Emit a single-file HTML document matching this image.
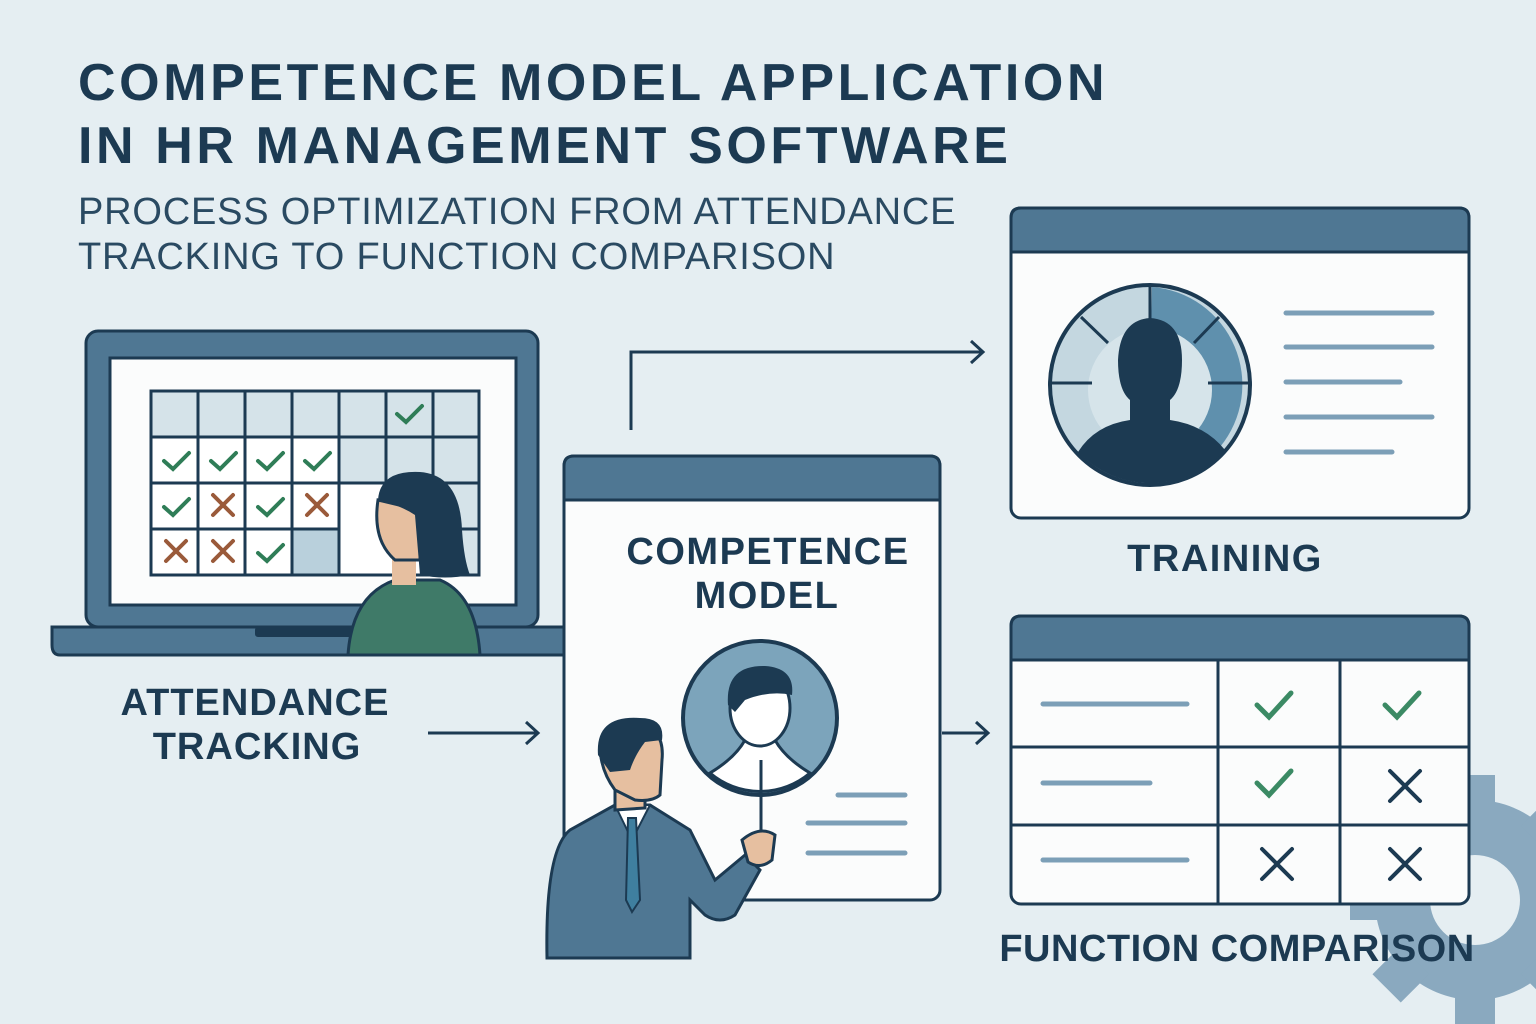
<!DOCTYPE html>
<html><head><meta charset="utf-8"><style>
html,body{margin:0;padding:0;background:#e5eef2;}
svg{display:block;}
text{font-family:"Liberation Sans","DejaVu Sans",sans-serif;}
</style></head><body>
<svg width="1536" height="1024" viewBox="0 0 1536 1024" xmlns="http://www.w3.org/2000/svg">
<rect width="1536" height="1024" fill="#e5eef2"/>
<!-- gear -->
<g fill="#8aa9bf">
<circle cx="1475" cy="900" r="100"/>
<g transform="translate(1475 900)">
<rect x="-20" y="-125" width="40" height="40" transform="rotate(0)"/>
<rect x="-20" y="-125" width="40" height="40" transform="rotate(45)"/>
<rect x="-20" y="-125" width="40" height="40" transform="rotate(90)"/>
<rect x="-20" y="-125" width="40" height="40" transform="rotate(135)"/>
<rect x="-20" y="-125" width="40" height="40" transform="rotate(180)"/>
<rect x="-20" y="-125" width="40" height="40" transform="rotate(225)"/>
<rect x="-20" y="-125" width="40" height="40" transform="rotate(270)"/>
<rect x="-20" y="-125" width="40" height="40" transform="rotate(315)"/>
</g></g>
<circle cx="1475" cy="900" r="45" fill="#e5eef2"/>
<!-- title -->
<g fill="#1c3a52" font-weight="bold" font-size="52" letter-spacing="3.6">
<text x="78" y="100">COMPETENCE MODEL APPLICATION</text>
<text x="78" y="163">IN HR MANAGEMENT SOFTWARE</text>
</g>
<g fill="#2a4a62" font-size="38" letter-spacing="0.8">
<text x="78" y="224">PROCESS OPTIMIZATION FROM ATTENDANCE</text>
<text x="78" y="269">TRACKING TO FUNCTION COMPARISON</text>
</g>
<!-- laptop -->
<rect x="86" y="331" width="452" height="296" rx="12" fill="#4f7793" stroke="#1c3a52" stroke-width="3"/>
<rect x="110" y="358" width="406" height="247" fill="#fbfcfc" stroke="#1c3a52" stroke-width="3"/>
<path d="M52 627 H564 V655 H60 Q52 655 52 645 Z" fill="#4f7793" stroke="#1c3a52" stroke-width="3"/>
<rect x="255" y="627" width="110" height="10" rx="3" fill="#1c3a52"/>
<!-- grid -->
<g stroke="#1c3a52" stroke-width="3">
<rect x="151" y="391" width="328" height="184" fill="#fff"/>
<g fill="#d5e3e9">
<rect x="151" y="391" width="47" height="46"/><rect x="198" y="391" width="47" height="46"/><rect x="245" y="391" width="47" height="46"/><rect x="292" y="391" width="47" height="46"/><rect x="339" y="391" width="47" height="46"/><rect x="386" y="391" width="47" height="46"/><rect x="433" y="391" width="46" height="46"/>
<rect x="339" y="437" width="47" height="46"/><rect x="386" y="437" width="47" height="46"/><rect x="433" y="437" width="46" height="46"/>
<rect x="433" y="483" width="46" height="46"/><rect x="433" y="529" width="46" height="46"/>
</g>
<rect x="292" y="529" width="47" height="46" fill="#b9d0dc"/>
<path d="M151 437H479M151 483H339M151 529H339M198 391V575M245 391V575M292 391V575M339 391V575" fill="none"/>
</g>
<g fill="none" stroke="#2f7d57" stroke-width="4" stroke-linecap="round">
<path d="M397 414l9 8 16-16"/>
<path d="M164 461l9 8 16-16M211 461l9 8 16-16M258 461l9 8 16-16M305 461l9 8 16-16"/>
<path d="M164 507l9 8 16-16M258 507l9 8 16-16M258 553l9 8 16-16"/>
</g>
<g stroke="#9a5a3a" stroke-width="4" stroke-linecap="round">
<path d="M213 495l20 20M233 495l-20 20M307 495l20 20M327 495l-20 20M166 541l20 20M186 541l-20 20M213 541l20 20M233 541l-20 20"/>
</g>
<!-- woman -->
<path d="M348 655 Q352 595 395 580 L440 580 Q476 595 480 655 Z" fill="#3f7a68" stroke="#1c3a52" stroke-width="3"/>
<rect x="392" y="555" width="24" height="30" fill="#e6bfa0"/>
<path d="M378 500 Q372 540 395 560 L420 560 L420 510 Z" fill="#e6bfa0" stroke="#1c3a52" stroke-width="3"/>
<path d="M378 500 Q380 470 420 472 Q460 475 462 530 Q464 560 470 575 Q445 580 420 575 L415 515 Q400 505 378 500 Z" fill="#1c3a52"/>
<!-- attendance label -->
<g fill="#1c3a52" font-weight="bold" font-size="38" text-anchor="middle" letter-spacing="1">
<text x="255" y="715">ATTENDANCE</text>
<text x="257" y="759">TRACKING</text>
</g>
<g stroke="#1c3a52" stroke-width="3" fill="none">
<path d="M428 733H538M526 722l12 11-12 11"/>
<path d="M631 430V352H983M971 341l12 11-12 11"/>
<path d="M942 733H988M976 722l12 11-12 11"/>
</g>
<!-- competence card -->
<rect x="564" y="456" width="376" height="444" rx="10" fill="#fbfcfc" stroke="#1c3a52" stroke-width="3"/>
<path d="M564 500V466Q564 456 574 456H930Q940 456 940 466V500Z" fill="#4f7793" stroke="#1c3a52" stroke-width="3"/>
<g fill="#1c3a52" font-weight="bold" font-size="38" text-anchor="middle" letter-spacing="1.5">
<text x="768" y="564">COMPETENCE</text>
<text x="767" y="608">MODEL</text>
</g>
<g stroke="#7c9fb7" stroke-width="5" stroke-linecap="round">
<path d="M838 795H905M808 823H905M808 853H905"/>
</g>
<circle cx="760" cy="718" r="77" fill="#7ca4bb" stroke="#1c3a52" stroke-width="4"/>
<path d="M710 773 Q735 758 745 740 L775 740 Q785 758 810 773 A77 77 0 0 1 710 773Z" fill="#fff" stroke="#1c3a52" stroke-width="3"/>
<ellipse cx="760" cy="708" rx="30" ry="38" fill="#fff" stroke="#1c3a52" stroke-width="3"/>
<path d="M728 705 Q725 665 765 666 Q795 668 792 695 Q770 690 745 700 L735 712Z" fill="#1c3a52"/>
<path d="M761 760V835" stroke="#1c3a52" stroke-width="3"/>
<!-- man -->
<path d="M547 958 Q545 850 570 830 L615 805 L650 805 L690 830 L715 880 L745 855 L760 870 L735 915 Q720 925 705 915 L690 900 L690 958Z" fill="#4f7793" stroke="#1c3a52" stroke-width="3"/>
<path d="M615 805 L632 840 L650 805Z" fill="#fff" stroke="#1c3a52" stroke-width="2"/>
<path d="M628 818 L636 818 L640 900 L632 912 L626 900Z" fill="#3f7f9f" stroke="#1c3a52" stroke-width="2"/>
<path d="M615 780 L615 810 L645 808 L645 790Z" fill="#e6bfa0" stroke="#1c3a52" stroke-width="3"/>
<path d="M600 745 Q605 720 640 722 Q665 730 662 760 L660 795 Q652 802 635 800 L615 790 Q600 770 600 745Z" fill="#e6bfa0" stroke="#1c3a52" stroke-width="3"/>
<path d="M598 755 Q595 715 640 718 Q665 718 662 740 L645 742 Q635 755 630 770 L610 772Z" fill="#1c3a52"/>
<path d="M742 840 Q760 825 775 835 L772 860 Q760 870 748 862Z" fill="#e6bfa0" stroke="#1c3a52" stroke-width="3"/>
<!-- training window -->
<rect x="1011" y="208" width="458" height="310" rx="10" fill="#fbfcfc" stroke="#1c3a52" stroke-width="3"/>
<path d="M1011 252V218Q1011 208 1021 208H1459Q1469 208 1469 218V252Z" fill="#4f7793" stroke="#1c3a52" stroke-width="3"/>
<circle cx="1150" cy="385" r="100" fill="#c4d7e0" stroke="#1c3a52" stroke-width="4"/>
<path d="M1152 287 A98 98 0 0 1 1220 447 L1150 385Z" fill="#5f90ad"/>
<circle cx="1150" cy="390" r="62" fill="#d6e4ea"/>
<path d="M1078 452 Q1095 425 1130 420 L1130 400 Q1118 390 1118 360 Q1120 320 1150 318 Q1182 320 1182 360 Q1182 390 1170 400 L1170 420 Q1205 425 1225 450 A100 100 0 0 1 1078 452Z" fill="#1c3a52"/>
<g stroke="#1c3a52" stroke-width="3">
<path d="M1150 287V325M1081 317L1108 343M1219 317L1194 343M1051 383H1092M1208 383H1250"/>
</g>
<g stroke="#7c9fb7" stroke-width="5" stroke-linecap="round">
<path d="M1286 313H1432M1286 347H1432M1286 382H1400M1286 417H1432M1286 452H1392"/>
</g>
<text x="1225" y="571" fill="#1c3a52" font-weight="bold" font-size="38" text-anchor="middle" letter-spacing="1.5">TRAINING</text>
<!-- function table -->
<rect x="1011" y="616" width="458" height="288" rx="10" fill="#fbfcfc" stroke="#1c3a52" stroke-width="3"/>
<path d="M1011 660V626Q1011 616 1021 616H1459Q1469 616 1469 626V660Z" fill="#4f7793" stroke="#1c3a52" stroke-width="3"/>
<g stroke="#1c3a52" stroke-width="3">
<path d="M1011 747H1469M1011 825H1469M1218 660V904M1340 660V904"/>
</g>
<g stroke="#7c9fb7" stroke-width="5" stroke-linecap="round">
<path d="M1043 704H1187M1043 783H1150M1043 860H1187"/>
</g>
<g fill="none" stroke="#3b8a64" stroke-width="5" stroke-linecap="round">
<path d="M1257 705l12 12 22-24M1385 705l12 12 22-24M1257 783l12 12 22-24"/>
</g>
<g stroke="#1c3a52" stroke-width="4" stroke-linecap="round">
<path d="M1390 771l30 30M1420 771l-30 30M1262 849l30 30M1292 849l-30 30M1390 849l30 30M1420 849l-30 30"/>
</g>
<text x="1237" y="961" fill="#1c3a52" font-weight="bold" font-size="38" text-anchor="middle" letter-spacing="0.5">FUNCTION COMPARISON</text>
</svg>
</body></html>
